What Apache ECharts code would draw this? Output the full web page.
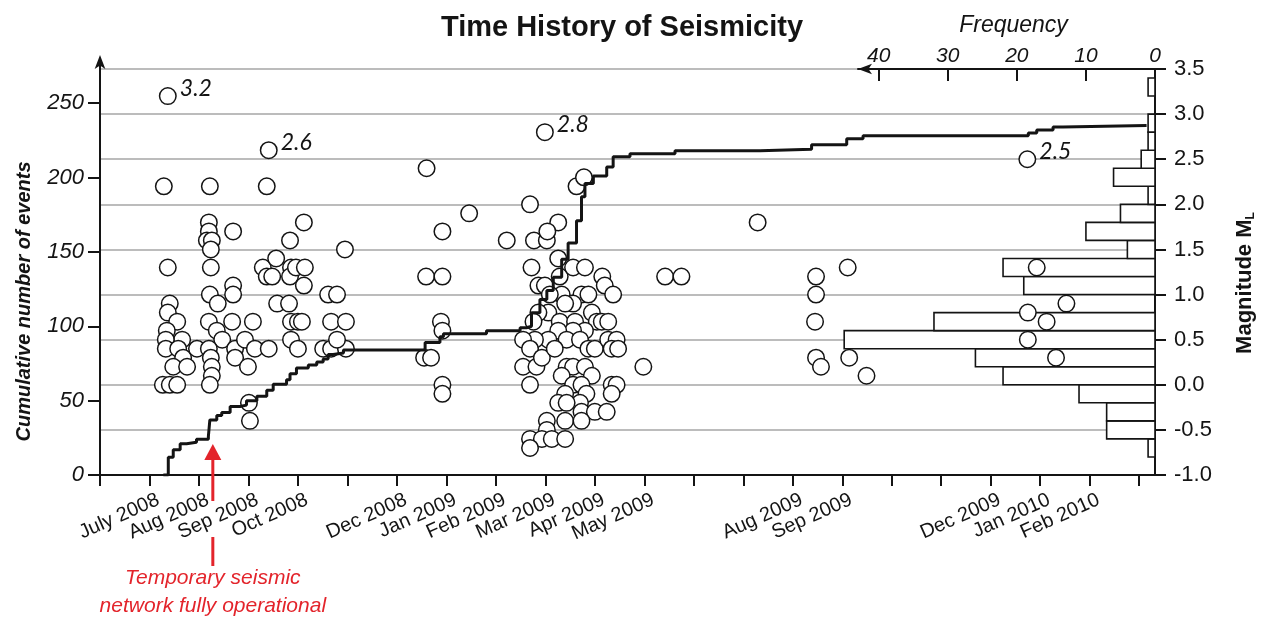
<!DOCTYPE html>
<html>
<head>
<meta charset="utf-8">
<title>Time History of Seismicity</title>
<script src="https://cdn.jsdelivr.net/npm/echarts@6/dist/echarts.min.js"></script>
<style>
  html, body { margin: 0; padding: 0; background: #ffffff; }
  #chart { width: 1267px; height: 617px; }
</style>
</head>
<body>
<div id="chart"></div>
<script>
// ---------------------------------------------------------------------------
// Data
// Time is measured in months; month 0 is the start of June 2008.
// ---------------------------------------------------------------------------

// Individual events: time (months) and local magnitude ML
const eventMonth = [
  // July - Aug 2008
  1.37, 1.29, 1.37, 1.41, 1.37, 1.56, 1.35, 1.66, 1.33, 1.33, 1.58, 1.68, 1.48, 1.76, 1.27, 1.41, 1.56, 1.96,
  // Aug - Sep 2008
  2.22, 2.20, 2.20, 2.16, 2.26, 2.24, 2.24, 2.69, 2.22, 2.69, 2.69, 2.38, 2.20, 2.36, 2.47, 2.20, 2.24, 2.26,
  2.26, 2.22, 2.67, 2.73, 2.73, 2.93, 2.99, 3.09, 3.13, 3.01, 3.03,
  // Sep - Oct 2008
  3.37, 3.41, 3.29, 3.56, 3.37, 3.48, 3.41, 3.58, 3.84, 3.86, 3.84, 3.96, 4.14, 4.12, 4.12, 3.82, 3.86, 4.00,
  4.08, 3.86, 4.00, 4.61, 4.79, 4.95, 4.67, 4.97, 4.51, 4.67, 4.97, 4.79,
  // Dec 2008 - Feb 2009
  6.60, 7.46, 6.92, 6.59, 6.92, 6.89, 6.92, 6.55, 6.69, 6.92, 6.92, 8.22,
  // Mar - Apr 2009
  8.69, 8.99, 9.26, 8.77, 9.03, 9.04, 8.72, 9.63, 9.78, 8.55, 8.82, 8.69, 9.26, 9.29, 9.56, 9.80, 10.15, 10.20,
  10.37, 8.86, 8.99, 9.33, 9.09, 9.73, 9.87, 9.56, 9.40, 9.06, 8.86, 8.76, 9.29, 9.60, 9.94, 10.04, 10.14, 10.27,
  9.80, 9.56, 9.26, 9.06, 8.79, 8.55, 8.69, 9.43, 9.70, 9.87, 10.00, 10.27, 10.44, 10.34, 10.47, 8.93, 9.19, 9.43,
  9.56, 9.80, 9.94, 9.33, 9.56, 9.73, 9.83, 10.34, 10.44, 10.34, 9.40, 9.26, 9.70, 9.43, 9.73, 10.00, 10.24, 9.40,
  9.73, 9.03, 9.03, 8.69, 8.93, 9.13, 9.40, 8.69,
  // May 2009 - Feb 2010
  10.98, 11.42, 11.75, 13.29, 14.47, 14.47, 14.45, 14.47, 14.57, 15.11, 15.14, 15.49,
  18.74, 18.93, 19.53, 18.75, 19.13, 18.75, 19.32
];
const eventMag = [
  3.2, 2.2, 1.3, 0.9, 0.8, 0.7, 0.6, 0.5, 0.5, 0.4, 0.4, 0.3, 0.2, 0.2, 0.0, 0.0, 0.0, 0.4,
  2.2, 1.8, 1.7, 1.6, 1.6, 1.5, 1.3, 1.7, 1.0, 1.1, 1.0, 0.9, 0.7, 0.6, 0.5, 0.4, 0.3, 0.2,
  0.1, 0.0, 0.7, 0.4, 0.3, 0.5, 0.2, 0.7, 0.4, -0.2, -0.4,
  2.2, 2.6, 1.3, 1.4, 1.2, 1.2, 0.4, 0.9, 1.6, 1.3, 1.2, 1.3, 1.3, 1.8, 1.1, 0.9, 0.7, 0.7,
  0.7, 0.5, 0.4, 1.0, 1.0, 1.5, 0.7, 0.7, 0.4, 0.4, 0.4, 0.5,
  2.4, 1.9, 1.7, 1.2, 1.2, 0.7, 0.6, 0.3, 0.3, 0.0, -0.1, 1.6,
  2.0, 2.8, 1.8, 1.6, 1.6, 1.7, 1.3, 2.2, 2.3, 0.2, 0.2, 0.0, 1.4, 1.2, 1.3, 1.3, 1.2, 1.1,
  1.0, 1.1, 1.1, 1.0, 1.0, 1.0, 1.0, 0.9, 0.9, 0.8, 0.8, 0.7, 0.7, 0.7, 0.8, 0.7, 0.7, 0.7,
  0.6, 0.6, 0.6, 0.5, 0.5, 0.5, 0.4, 0.5, 0.5, 0.4, 0.4, 0.5, 0.5, 0.4, 0.4, 0.3, 0.4, 0.2,
  0.2, 0.2, 0.1, 0.1, 0.0, 0.0, -0.1, 0.0, 0.0, -0.1, -0.1, -0.2, -0.2, -0.2, -0.3, -0.3, -0.3, -0.4,
  -0.4, -0.4, -0.5, -0.6, -0.6, -0.6, -0.6, -0.7,
  0.2, 1.2, 1.2, 1.8, 1.2, 1.0, 0.7, 0.3, 0.2, 1.3, 0.3, 0.1,
  2.5, 1.3, 0.9, 0.8, 0.7, 0.5, 0.3
];

// Cumulative number of events (step curve breakpoints)
const cumMonth = [
  1.28, 1.38, 1.48, 1.62, 1.75, 1.95, 2.19, 2.22, 2.36, 2.46, 2.63, 2.83, 2.96, 3.17, 3.37, 3.50, 3.77, 3.84,
  3.97, 4.21, 4.38, 4.51, 4.61, 4.71, 4.92, 6.57, 6.87, 6.94, 7.81, 8.49, 8.62, 8.72, 8.89, 9.03, 9.16, 9.33,
  9.46, 9.63, 9.73, 9.80, 9.97, 10.24, 10.37, 10.71, 11.62, 13.34, 14.38, 15.09, 15.42, 18.76, 18.93, 19.26,
  19.46, 21.15
];
const cumCount = [
  0, 12, 17, 21, 22, 24, 26, 37, 40, 42, 46, 47, 50, 53, 57, 61, 64, 68,
  72, 74, 76, 78, 81, 82, 84, 89, 93, 95, 97, 99, 100, 109, 118, 124, 133, 145,
  156, 171, 187, 196, 201, 207, 214, 216, 218, 219, 222, 226, 228, 230, 232, 234,
  235, 235
];

// Magnitude histogram: lower edge of each 0.2-unit bin and number of events
const binStart = [-0.8, -0.6, -0.4, -0.2, 0.0, 0.2, 0.4, 0.6, 0.8, 1.0, 1.2, 1.4, 1.6, 1.8, 2.0, 2.2, 2.4, 2.6, 2.8, 3.0, 3.2];
const binCount = [1, 7, 7, 11, 22, 26, 45, 32, 0, 19, 22, 4, 10, 5, 1, 6, 2, 1, 1, 0, 1];
const BIN_WIDTH = 0.2;

// Axis ticks and labels
const monthTicks = [0, 1, 2, 3, 4, 5, 6, 7, 8, 9, 10, 11, 12, 13, 14, 15, 16, 17, 18, 19, 20, 21];
const labelledMonth = [1, 2, 3, 4, 6, 7, 8, 9, 10, 11, 14, 15, 18, 19, 20];
const monthNames = ['July 2008', 'Aug 2008', 'Sep 2008', 'Oct 2008', 'Dec 2008', 'Jan 2009', 'Feb 2009',
  'Mar 2009', 'Apr 2009', 'May 2009', 'Aug 2009', 'Sep 2009', 'Dec 2009', 'Jan 2010', 'Feb 2010'];
const countTicks = [0, 50, 100, 150, 200, 250];
const freqTicks = [0, 10, 20, 30, 40];

// Annotated events (magnitude at or above this value get their ML printed)
const LABEL_MIN_MAG = 2.5;

// Date from which the temporary seismic network was fully operational
const networkOperationalMonth = 2.28;

// ---------------------------------------------------------------------------
// Chart
// ---------------------------------------------------------------------------
const FONT = '"Liberation Sans", Arial, sans-serif';
const INK = '#141414';
const RED = '#e3242b';
const LABEL_SHIFT = 0.18; // month labels sit slightly to the right of their tick

const chart = echarts.init(document.getElementById('chart'), null, { renderer: 'canvas' });

const axisLineStyle = { color: INK, width: 2 };

const option = {
  backgroundColor: '#ffffff',
  animation: false,
  title: {
    text: 'Time History of Seismicity',
    left: 617,
    top: 8,
    textAlign: 'center',
    textStyle: { fontFamily: FONT, fontSize: 29, fontWeight: 'bold', color: INK }
  },
  grid: [
    { left: 100, right: 112, top: 60, bottom: 142 },
    { left: 858, right: 112, top: 69, bottom: 142 }
  ],
  xAxis: [
    {
      gridIndex: 0, type: 'value', min: 0, max: 21.32,
      axisLine: { show: true, onZero: false, lineStyle: axisLineStyle },
      axisTick: { show: true, length: 11, customValues: monthTicks, lineStyle: axisLineStyle },
      axisLabel: {
        customValues: labelledMonth.map(m => m + LABEL_SHIFT),
        formatter: v => monthNames[labelledMonth.indexOf(Math.round(v - LABEL_SHIFT))] || '',
        rotate: 24, margin: 24, fontSize: 20, color: INK, fontFamily: FONT
      },
      splitLine: { show: false }
    },
    {
      gridIndex: 1, type: 'value', position: 'top', inverse: true, min: 0, max: 43,
      name: 'Frequency', nameLocation: 'middle', nameGap: 32,
      nameTextStyle: { fontFamily: FONT, fontStyle: 'italic', fontSize: 23, color: INK, padding: [0, 0, 0, 14] },
      axisLine: { show: true, onZero: false, symbol: ['arrow', 'none'], symbolSize: [8, 14], lineStyle: axisLineStyle },
      axisTick: { show: true, inside: true, length: 12, customValues: freqTicks, lineStyle: axisLineStyle },
      axisLabel: { customValues: freqTicks, margin: 2, fontSize: 21, fontStyle: 'italic', color: INK, fontFamily: FONT },
      splitLine: { show: false }
    }
  ],
  yAxis: [
    {
      gridIndex: 0, type: 'value', min: 0, max: 279,
      name: 'Cumulative number of events', nameLocation: 'middle', nameGap: 66,
      nameTextStyle: { fontFamily: FONT, fontStyle: 'italic', fontWeight: 'bold', fontSize: 20, color: INK, padding: [0, 68, 0, 0] },
      axisLine: {
        show: true, onZero: false, symbol: ['none', 'arrow'], symbolSize: [8, 14], symbolOffset: [0, 5],
        lineStyle: axisLineStyle
      },
      axisTick: { show: true, length: 12, customValues: countTicks, lineStyle: axisLineStyle },
      axisLabel: { customValues: countTicks, margin: 16, fontSize: 22, fontStyle: 'italic', color: INK, fontFamily: FONT },
      splitLine: { show: false }
    },
    {
      // magnitude scale of the time plot: carries the circles and the horizontal grid
      gridIndex: 0, type: 'value', position: 'right', min: -1, max: 3.6, interval: 0.5,
      axisLine: { show: false, onZero: false }, axisTick: { show: false }, axisLabel: { show: false },
      splitLine: { show: true, showMinLine: false, showMaxLine: false, lineStyle: { color: '#a6a6a6', width: 1.5 } }
    },
    {
      gridIndex: 1, type: 'value', position: 'right', min: -1, max: 3.5, interval: 0.5,
      name: '{m|Magnitude M}{s|L}', nameLocation: 'middle', nameGap: 77,
      nameTextStyle: {
        color: INK, padding: [0, 22, 0, 0],
        rich: {
          m: { fontFamily: FONT, fontWeight: 'bold', fontSize: 22, color: INK },
          s: { fontFamily: FONT, fontWeight: 'bold', fontSize: 12, color: INK, padding: [13, 0, 0, 0] }
        }
      },
      axisLine: { show: true, onZero: false, lineStyle: axisLineStyle },
      axisTick: { show: true, length: 11, lineStyle: axisLineStyle },
      axisLabel: { formatter: v => v.toFixed(1), margin: 19, fontSize: 22, color: INK, fontFamily: FONT },
      splitLine: { show: false }
    }
  ],
  series: [
    {
      name: 'Magnitude histogram',
      type: 'custom',
      xAxisIndex: 1, yAxisIndex: 2,
      data: binStart.map((b, i) => [b, binCount[i]]),
      encode: { x: 1, y: 0 },
      z: 2,
      silent: true,
      renderItem: function (params, api) {
        const lo = api.value(0);
        const n = api.value(1);
        if (!n) return null;
        const a = api.coord([0, lo]);
        const b = api.coord([n, lo + BIN_WIDTH]);
        return {
          type: 'rect',
          shape: {
            x: Math.min(a[0], b[0]), y: Math.min(a[1], b[1]),
            width: Math.abs(b[0] - a[0]), height: Math.abs(b[1] - a[1])
          },
          style: { fill: '#ffffff', stroke: INK, lineWidth: 1.6 }
        };
      }
    },
    {
      name: 'Events',
      type: 'scatter',
      xAxisIndex: 0, yAxisIndex: 1,
      symbol: 'circle',
      symbolSize: 16.5,
      z: 3,
      silent: true,
      itemStyle: { color: '#ffffff', borderColor: INK, borderWidth: 1.5, opacity: 1 },
      label: {
        show: false, position: 'right', distance: 3, offset: [0, -8],
        fontFamily: 'Lato, "Open Sans", sans-serif', fontStyle: 'italic', fontSize: 23, color: INK,
        formatter: p => p.value[1].toFixed(1)
      },
      data: eventMonth.map((t, i) => ({
        value: [t, eventMag[i]],
        label: { show: eventMag[i] >= LABEL_MIN_MAG }
      }))
    },
    {
      name: 'Cumulative number of events',
      type: 'line',
      xAxisIndex: 0, yAxisIndex: 0,
      step: 'end',
      showSymbol: false,
      z: 4,
      silent: true,
      lineStyle: { color: INK, width: 3 },
      data: cumMonth.map((t, i) => [t, cumCount[i]])
    }
  ]
};

chart.setOption(option);

// Red marker: temporary seismic network fully operational
const base = chart.convertToPixel({ xAxisIndex: 0, yAxisIndex: 0 }, [networkOperationalMonth, 0]);
const mx = base[0];
const my = base[1];
chart.setOption({
  graphic: [
    { type: 'polygon', z: 100, shape: { points: [[mx, my - 31], [mx - 8.5, my - 15], [mx + 8.5, my - 15]] }, style: { fill: RED } },
    { type: 'rect', z: 100, shape: { x: mx - 1.5, y: my - 16, width: 3, height: 42 }, style: { fill: RED } },
    { type: 'rect', z: 100, shape: { x: mx - 1.5, y: my + 62, width: 3, height: 29 }, style: { fill: RED } },
    {
      type: 'text', z: 100, x: mx, y: my + 117,
      style: {
        text: 'Temporary seismic\nnetwork fully operational',
        align: 'center', verticalAlign: 'middle', lineHeight: 28,
        fontFamily: FONT, fontStyle: 'italic', fontSize: 21, fill: RED
      }
    }
  ]
});
</script>
</body>
</html>
